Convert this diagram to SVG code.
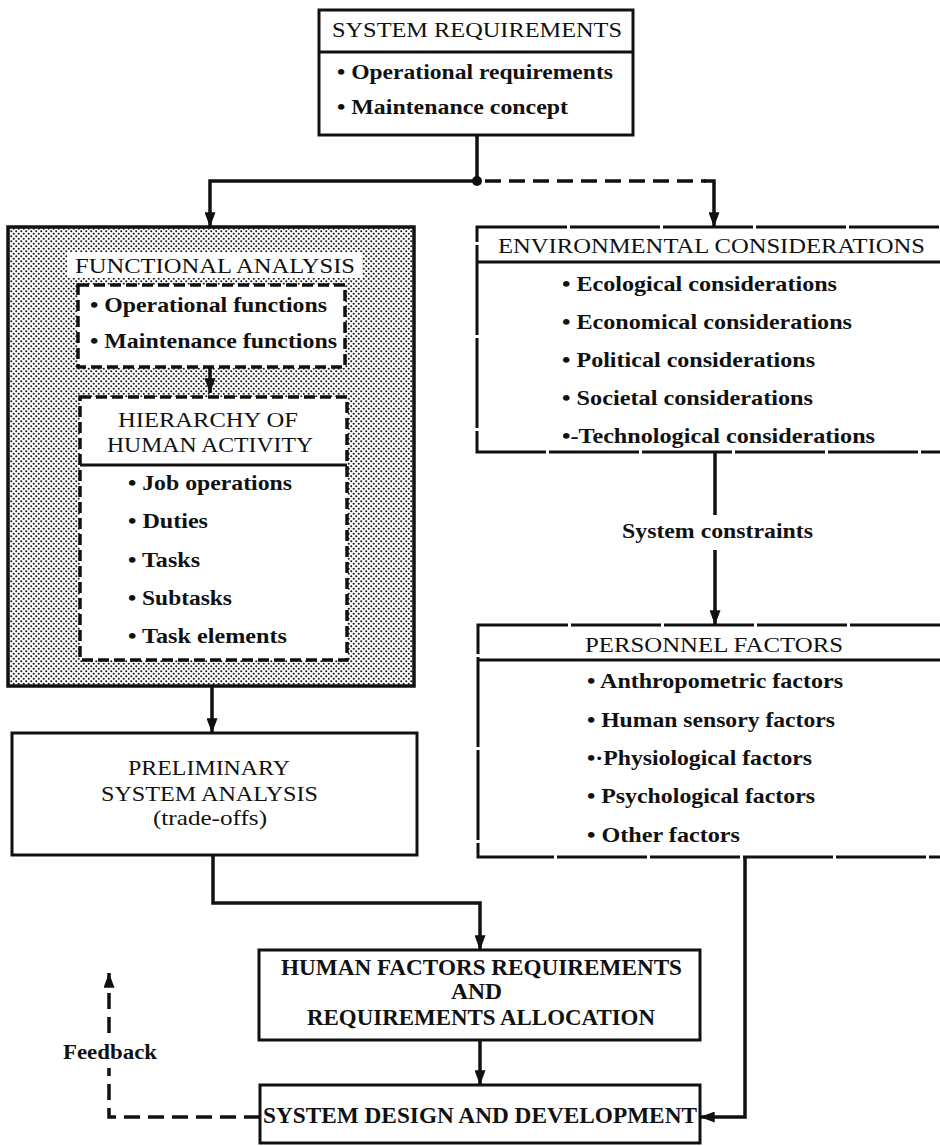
<svg xmlns="http://www.w3.org/2000/svg" width="940" height="1146" viewBox="0 0 940 1146">
  <defs>
    <!-- halftone dot screen for the functional analysis panel -->
    <pattern id="halftone" width="5" height="5" patternUnits="userSpaceOnUse">
      <rect width="5" height="5" fill="#fff"/>
      <circle cx="1.25" cy="1.25" r="1.05" fill="#1a1a1a"/>
      <circle cx="3.75" cy="3.75" r="1.05" fill="#1a1a1a"/>
    </pattern>
    <marker id="arrow" viewBox="0 0 16 12" refX="16" refY="6" markerWidth="16" markerHeight="11" markerUnits="userSpaceOnUse" orient="auto">
      <path d="M0,0 L16,6 L0,12 z" fill="#111"/>
    </marker>
  </defs>
  <style>
    .box { fill: #fff; stroke: #111; stroke-width: 3; }
    .broken { stroke-dasharray: 90 3; }
    .dashbox { fill: #fff; stroke: #111; stroke-width: 3.5; stroke-dasharray: 11 5; }
    .rule { stroke: #111; stroke-width: 3; }
    .wire { fill: none; stroke: #111; stroke-width: 3.5; }
    .dash { stroke-dasharray: 16 8; }
    text { font-family: "Liberation Serif", "Times New Roman", serif; fill: #111; }
    .title { font-size: 22px; }
    .item { font-size: 21px; font-weight: bold; }
    .heavy { font-size: 24px; font-weight: bold; }
  </style>

  <rect width="940" height="1146" fill="#fff"/>

  <g id="system-requirements">
    <rect class="box" x="319" y="10" width="314" height="125"/>
    <line class="rule" x1="319" y1="52" x2="633" y2="52"/>
    <text class="title" x="332" y="37" textLength="290" lengthAdjust="spacingAndGlyphs">SYSTEM REQUIREMENTS</text>
    <text class="item" x="337" y="79" textLength="276" lengthAdjust="spacingAndGlyphs">• Operational requirements</text>
    <text class="item" x="337" y="114" textLength="231" lengthAdjust="spacingAndGlyphs">• Maintenance concept</text>
  </g>

  <g id="functional-analysis">
    <rect x="8" y="227" width="406" height="459" fill="url(#halftone)" stroke="#111" stroke-width="3.5"/>
    <rect x="67" y="252" width="295" height="26" fill="#fff"/>
    <text class="title" x="75" y="273" textLength="280" lengthAdjust="spacingAndGlyphs">FUNCTIONAL ANALYSIS</text>
    <g id="functions">
      <rect class="dashbox" x="78" y="285" width="267" height="82"/>
      <text class="item" x="90" y="312" textLength="237" lengthAdjust="spacingAndGlyphs">• Operational functions</text>
      <text class="item" x="90" y="348" textLength="247" lengthAdjust="spacingAndGlyphs">• Maintenance functions</text>
    </g>
    <g id="hierarchy-of-human-activity">
      <rect class="dashbox" x="80" y="397" width="267" height="263"/>
      <line class="rule" x1="80" y1="465" x2="347" y2="465"/>
      <text class="title" x="118" y="427" textLength="180" lengthAdjust="spacingAndGlyphs">HIERARCHY OF</text>
      <text class="title" x="107" y="452" textLength="206" lengthAdjust="spacingAndGlyphs">HUMAN ACTIVITY</text>
      <text class="item" x="128" y="490" textLength="164" lengthAdjust="spacingAndGlyphs">• Job operations</text>
      <text class="item" x="128" y="528" textLength="80" lengthAdjust="spacingAndGlyphs">• Duties</text>
      <text class="item" x="128" y="567" textLength="72" lengthAdjust="spacingAndGlyphs">• Tasks</text>
      <text class="item" x="128" y="605" textLength="104" lengthAdjust="spacingAndGlyphs">• Subtasks</text>
      <text class="item" x="128" y="643" textLength="159" lengthAdjust="spacingAndGlyphs">• Task elements</text>
    </g>
  </g>

  <g id="environmental-considerations">
    <rect class="box broken" x="477" y="227" width="480" height="225"/>
    <line class="rule" x1="477" y1="262" x2="940" y2="262"/>
    <text class="title" x="498" y="253" textLength="427" lengthAdjust="spacingAndGlyphs">ENVIRONMENTAL CONSIDERATIONS</text>
    <text class="item" x="562" y="291" textLength="275" lengthAdjust="spacingAndGlyphs">• Ecological considerations</text>
    <text class="item" x="562" y="329" textLength="290" lengthAdjust="spacingAndGlyphs">• Economical considerations</text>
    <text class="item" x="562" y="367" textLength="253" lengthAdjust="spacingAndGlyphs">• Political considerations</text>
    <text class="item" x="562" y="405" textLength="251" lengthAdjust="spacingAndGlyphs">• Societal considerations</text>
    <text class="item" x="562" y="443" textLength="313" lengthAdjust="spacingAndGlyphs">•-Technological considerations</text>
  </g>

  <g id="personnel-factors">
    <rect class="box broken" x="478" y="625" width="480" height="232"/>
    <line class="rule" x1="478" y1="660" x2="940" y2="660"/>
    <text class="title" x="585" y="652" textLength="258" lengthAdjust="spacingAndGlyphs">PERSONNEL FACTORS</text>
    <text class="item" x="587" y="688" textLength="256" lengthAdjust="spacingAndGlyphs">• Anthropometric factors</text>
    <text class="item" x="587" y="727" textLength="248" lengthAdjust="spacingAndGlyphs">• Human sensory factors</text>
    <text class="item" x="587" y="765" textLength="225" lengthAdjust="spacingAndGlyphs">•·Physiological factors</text>
    <text class="item" x="587" y="803" textLength="228" lengthAdjust="spacingAndGlyphs">• Psychological factors</text>
    <text class="item" x="587" y="842" textLength="153" lengthAdjust="spacingAndGlyphs">• Other factors</text>
  </g>

  <g id="preliminary-system-analysis">
    <rect class="box" x="12" y="733" width="405" height="122"/>
    <text class="title" x="128" y="775" textLength="162" lengthAdjust="spacingAndGlyphs">PRELIMINARY</text>
    <text class="title" x="101" y="801" textLength="217" lengthAdjust="spacingAndGlyphs">SYSTEM ANALYSIS</text>
    <text class="title" x="153" y="825" textLength="114" lengthAdjust="spacingAndGlyphs">(trade-offs)</text>
  </g>

  <g id="human-factors-requirements">
    <rect class="box" x="259" y="950" width="441" height="90"/>
    <text class="heavy" x="281" y="975" textLength="401" lengthAdjust="spacingAndGlyphs">HUMAN FACTORS REQUIREMENTS</text>
    <text class="heavy" x="451" y="999" textLength="51" lengthAdjust="spacingAndGlyphs">AND</text>
    <text class="heavy" x="307" y="1025" textLength="348" lengthAdjust="spacingAndGlyphs">REQUIREMENTS ALLOCATION</text>
  </g>

  <g id="system-design-and-development">
    <rect class="box" x="260" y="1085" width="440" height="58"/>
    <text class="heavy" x="263" y="1123" textLength="434" lengthAdjust="spacingAndGlyphs">SYSTEM DESIGN AND DEVELOPMENT</text>
  </g>

  <g id="connectors">
    <path class="wire" d="M477,135 V181 H210 V227" marker-end="url(#arrow)"/>
    <path class="wire dash" d="M485,181 H706" />
    <path class="wire" d="M704,181 H714 V227" marker-end="url(#arrow)"/>
    <circle cx="477" cy="181" r="5" fill="#111"/>
    <path class="wire" d="M210,367 V393" marker-end="url(#arrow)"/>
    <path class="wire" d="M212,686 V733" marker-end="url(#arrow)"/>
    <path class="wire" d="M715,452 V515"/>
    <text class="item" x="622" y="538" textLength="191" lengthAdjust="spacingAndGlyphs">System constraints</text>
    <path class="wire" d="M715,550 V625" marker-end="url(#arrow)"/>
    <path class="wire" d="M213,855 V903 H480 V950" marker-end="url(#arrow)"/>
    <path class="wire" d="M480,1040 V1085" marker-end="url(#arrow)"/>
    <path class="wire" d="M745,857 V1117 H700" marker-end="url(#arrow)"/>
    <path class="wire dash" d="M260,1117 H109 V1068"/>
    <path class="wire dash" d="M109,1033 V973" marker-end="url(#arrow)"/>
    <text class="item" x="63" y="1059" textLength="94" lengthAdjust="spacingAndGlyphs">Feedback</text>
  </g>
</svg>
